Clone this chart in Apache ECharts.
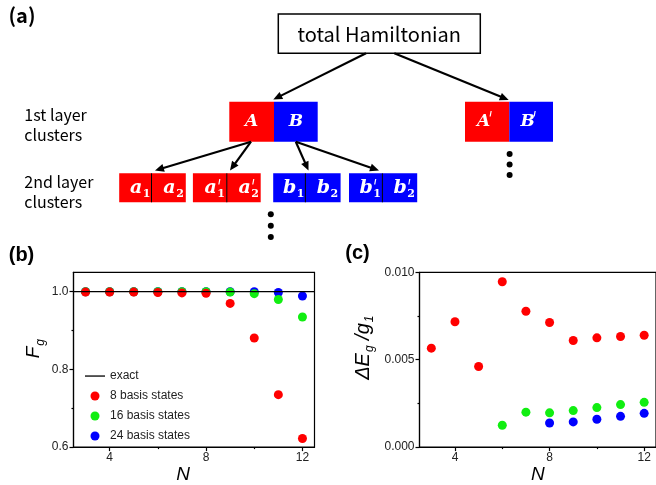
<!DOCTYPE html>
<html>
<head>
    <meta charset="utf-8">
    <title>cluster basis</title>
    <script src="https://cdn.jsdelivr.net/npm/echarts@6/dist/echarts.min.js"></script>
    <style>
        body { margin: 0; background: #fff; }
    </style>
</head>
<body>

<div id="main" style="width: 656px;height:485px;"></div>

<script type="text/javascript">
    // panel (b): fidelity of the ground state
    var nAll = [3, 4, 5, 6, 7, 8, 9, 10, 11, 12];
    var exactN = [2.5, 12.5];
    var exactF = [1, 1];
    var fid8 = [0.999, 0.999, 0.999, 0.998, 0.997, 0.996, 0.970, 0.881, 0.735, 0.622];
    var fid16 = [1, 1, 1, 1, 1, 1, 0.999, 0.995, 0.980, 0.935];
    var fid24 = [1, 1, 1, 1, 1, 1, 1, 1, 0.998, 0.989];

    // panel (c): energy error
    var gap8 = [0.00566, 0.00717, 0.00461, 0.00946, 0.00777, 0.00713, 0.00610, 0.00625, 0.00633, 0.00640];
    var gapN16 = [6, 7, 8, 9, 10, 11, 12];
    var gap16 = [0.00125, 0.00200, 0.00196, 0.00209, 0.00226, 0.00243, 0.00256];
    var gapN24 = [8, 9, 10, 11, 12];
    var gap24 = [0.00138, 0.00144, 0.00159, 0.00176, 0.00193];

    var xTicks = [4, 8, 12];
    var xMinor = [6, 10];
    var fidTicks = [0.6, 0.8, 1.0];
    var fidMinor = [0.7, 0.9];
    var gapTicks = [0, 0.005, 0.010];
    var gapMinor = [0.0025, 0.0075];

    function zip(xs, ys) {
        var out = [];
        for (var i = 0; i < xs.length; i++) out.push([xs[i], ys[i]]);
        return out;
    }

    var FONT = 'Liberation Sans';
    var RED = '#ff0000', GREEN = '#11ee11', BLUE = '#0000ff';

    // ---------- diagram (a) ----------
    var g = [];
    function arrow(x1, y1, x2, y2) {
        var dx = x2 - x1, dy = y2 - y1, L = Math.sqrt(dx * dx + dy * dy);
        var ux = dx / L, uy = dy / L, hl = 9, hw = 4;
        var bx = x2 - ux * hl, by = y2 - uy * hl;
        g.push({type: 'line', shape: {x1: x1, y1: y1, x2: bx + ux * 2, y2: by + uy * 2},
                style: {stroke: '#000', lineWidth: 2.2}});
        g.push({type: 'polygon', shape: {points: [[x2, y2], [bx - uy * hw, by + ux * hw], [bx + uy * hw, by - ux * hw]]},
                style: {fill: '#000'}});
    }
    function label(x, y, txt, size, weight) {
        g.push({type: 'text', x: x, y: y, style: {text: txt, fill: '#000', font: (weight || 'normal') + ' ' + size + 'px "Noto Sans CJK SC"',
                textAlign: 'left', textVerticalAlign: 'middle'}});
    }
    function mathText(x, y, txt, size, align, upright) {
        g.push({type: 'text', x: x, y: y, style: {text: txt, fill: '#fff',
                font: (upright ? '' : 'italic ') + 'bold ' + size + 'px "DejaVu Serif"', textAlign: align, textVerticalAlign: 'middle'}});
    }
    function primeMark(x, y) {
        g.push({type: 'line', shape: {x1: x + 1, y1: y - 3, x2: x, y2: y + 2.5},
                style: {stroke: '#fff', lineWidth: 1.2}});
    }
    function bigBox(x0, x1, color, letter, prime) {
        g.push({type: 'rect', shape: {x: x0, y: 101.7, width: x1 - x0, height: 40}, style: {fill: color}});
        var cx = (x0 + x1) / 2;
        mathText(prime ? cx - 3.5 : cx, 122, letter, 17, 'center');
        if (prime) primeMark(cx + 3, 114);
    }
    function cell(x0, x1, color, letter, sub, prime) {
        g.push({type: 'rect', shape: {x: x0, y: 173.3, width: x1 - x0, height: 29}, style: {fill: color}});
        var cx = (x0 + x1) / 2 + 1;
        mathText(cx + 6, 188.5, letter, 19, 'right');
        mathText(cx + 6.5, 194, sub, 11, 'left', true);
        if (prime) primeMark(cx + 8, 182);
    }
    function pair(x0, xm, x1, color, letter, prime) {
        cell(x0, xm, color, letter, '1', prime);
        cell(xm, x1, color, letter, '2', prime);
        g.push({type: 'line', shape: {x1: xm, y1: 173.3, x2: xm, y2: 202.3}, style: {stroke: '#000', lineWidth: 1}});
    }

    g.push({type: 'text', x: 22, y: 15, style: {text: '(a)', fill: '#000', font: 'bold 20px "Noto Sans CJK SC"',
            textAlign: 'center', textVerticalAlign: 'middle'}});
    g.push({type: 'rect', shape: {x: 278.3, y: 14, width: 202, height: 39.3},
            style: {fill: '#fff', stroke: '#000', lineWidth: 1.5}});
    g.push({type: 'text', x: 379.3, y: 34, style: {text: 'total Hamiltonian', fill: '#000',
            font: '20px "Noto Sans CJK SC"', textAlign: 'center', textVerticalAlign: 'middle'}});
    arrow(366, 53.3, 273.3, 99.5);
    arrow(394.3, 53.3, 508.7, 100);

    label(24.3, 115, '1st layer', 16);
    label(24.3, 135, 'clusters', 16);
    label(24.3, 182, '2nd layer', 16);
    label(24.3, 202, 'clusters', 16);

    bigBox(229.3, 274, RED, 'A', false);
    bigBox(274, 317.7, BLUE, 'B', false);
    bigBox(465, 509.3, RED, 'A', true);
    bigBox(509.3, 553, BLUE, 'B', true);

    arrow(251, 141.7, 155, 170.5);
    arrow(251, 141.7, 230, 170.5);
    arrow(295.8, 141.7, 308.5, 170.5);
    arrow(295.8, 141.7, 379, 170.5);

    pair(119.2, 151.5, 185.8, RED, 'a', false);
    pair(192.9, 226.8, 260.7, RED, 'a', true);
    pair(273.2, 305.4, 340.6, BLUE, 'b', false);
    pair(349, 382.4, 417.2, BLUE, 'b', true);

    [154, 164.5, 175].forEach(function (y) {
        g.push({type: 'circle', shape: {cx: 509.6, cy: y, r: 3}, style: {fill: '#000'}});
    });
    [214.3, 225.7, 237].forEach(function (y) {
        g.push({type: 'circle', shape: {cx: 270.8, cy: y, r: 3}, style: {fill: '#000'}});
    });

    g.push({type: 'text', x: 21.5, y: 255, style: {text: '(b)', fill: '#000', font: 'bold 20px "Liberation Sans"',
            textAlign: 'center', textVerticalAlign: 'middle'}});
    g.push({type: 'text', x: 357.5, y: 253.5, style: {text: '(c)', fill: '#000', font: 'bold 20px "Liberation Sans"',
            textAlign: 'center', textVerticalAlign: 'middle'}});

    // ---------- axes ----------
    var lineStyle = {color: '#000', width: 1.2};
    var labelStyle = {fontSize: 12, color: '#222', fontFamily: FONT, margin: 5};
    var italicName = {fontSize: 19, fontStyle: 'italic', color: '#000', fontFamily: FONT};

    function mainX(grid, nameShift) {
        return {
            type: 'value', gridIndex: grid, min: 2.5, max: 12.5, position: 'bottom',
            name: 'N', nameLocation: 'middle', nameGap: 5,
            nameTextStyle: Object.assign({padding: [0, nameShift, 0, 0]}, italicName),
            axisLine: {lineStyle: lineStyle},
            axisTick: {customValues: xTicks, length: 4, lineStyle: lineStyle},
            axisLabel: Object.assign({customValues: xTicks}, labelStyle),
            splitLine: {show: false}
        };
    }
    function minorX(grid) {
        return {
            type: 'value', gridIndex: grid, min: 2.5, max: 12.5, position: 'bottom',
            axisLine: {show: false},
            axisTick: {customValues: xMinor, length: 2, lineStyle: lineStyle},
            axisLabel: {show: false}, splitLine: {show: false}
        };
    }
    function minorY(grid, min, max, vals) {
        return {
            type: 'value', gridIndex: grid, min: min, max: max, position: 'left',
            axisLine: {show: false},
            axisTick: {customValues: vals, length: 2, lineStyle: lineStyle},
            axisLabel: {show: false}, splitLine: {show: false}
        };
    }

    function subRich(size) {
        return {
            i: {fontSize: size, fontStyle: 'italic', fontFamily: FONT, color: '#000', lineHeight: 22, verticalAlign: 'top'},
            s: {fontSize: 12, fontStyle: 'italic', fontFamily: FONT, color: '#000', lineHeight: 12, verticalAlign: 'bottom', padding: [11, 0, 0, 1]}
        };
    }

    var chart = echarts.init(document.getElementById('main'));
    chart.setOption({
        animation: false,
        graphic: g,
        grid: [
            {left: 73.5, top: 272.3, width: 241, height: 179.3, show: true, borderColor: '#000', borderWidth: 1.2},
            {left: 419.5, top: 272.3, width: 240, height: 178.5, show: true, borderColor: '#000', borderWidth: 1.2}
        ],
        legend: {
            data: [
                {name: 'exact', icon: 'path://M0,0 M20,9 M0,3.9 L20,3.9 L20,5.2 L0,5.2 Z'},
                '8 basis states', '16 basis states', '24 basis states'
            ],
            orient: 'vertical', left: 80, top: 365,
            itemWidth: 20, itemHeight: 9, itemGap: 8,
            textStyle: {fontSize: 12, color: '#222', fontFamily: FONT}
        },
        xAxis: [mainX(0, 22), minorX(0), mainX(1, 0), minorX(1)],
        yAxis: [
            {
                type: 'value', gridIndex: 0, min: 0.6, max: 1.05, position: 'left',
                name: '{i|F}{s|g}', nameLocation: 'middle', nameGap: 27, nameRotate: 90,
                nameTextStyle: {rich: subRich(19), padding: [0, 0, 0, 22]},
                axisLine: {lineStyle: lineStyle},
                axisTick: {customValues: fidTicks, length: 4, lineStyle: lineStyle},
                axisLabel: Object.assign({customValues: fidTicks, formatter: function (v) { return v.toFixed(1); }}, labelStyle),
                splitLine: {show: false}
            },
            minorY(0, 0.6, 1.05, fidMinor),
            {
                type: 'value', gridIndex: 1, min: 0, max: 0.010, position: 'left',
                name: '{i|ΔE}{s|g}{i| /g}{s|1}', nameLocation: 'middle', nameGap: 44, nameRotate: 90,
                nameTextStyle: {rich: subRich(20), padding: [0, 0, 0, 24]},
                axisLine: {lineStyle: lineStyle},
                axisTick: {customValues: gapTicks, length: 4, lineStyle: lineStyle},
                axisLabel: Object.assign({customValues: gapTicks, formatter: function (v) { return v.toFixed(3); }}, labelStyle),
                splitLine: {show: false}
            },
            minorY(1, 0, 0.010, gapMinor)
        ],
        series: [
            {name: 'exact', type: 'line', xAxisIndex: 0, yAxisIndex: 0, data: zip(exactN, exactF),
             symbol: 'none', lineStyle: {color: '#000', width: 1.3}, itemStyle: {color: '#000'}},
            {name: '24 basis states', type: 'scatter', xAxisIndex: 0, yAxisIndex: 0, data: zip(nAll, fid24),
             symbolSize: 9, itemStyle: {color: BLUE, opacity: 1}},
            {name: '16 basis states', type: 'scatter', xAxisIndex: 0, yAxisIndex: 0, data: zip(nAll, fid16),
             symbolSize: 9, itemStyle: {color: GREEN, opacity: 1}},
            {name: '8 basis states', type: 'scatter', xAxisIndex: 0, yAxisIndex: 0, data: zip(nAll, fid8),
             symbolSize: 9, itemStyle: {color: RED, opacity: 1}},
            {name: '24 basis states', type: 'scatter', xAxisIndex: 2, yAxisIndex: 2, data: zip(gapN24, gap24),
             symbolSize: 9, itemStyle: {color: BLUE, opacity: 1}},
            {name: '16 basis states', type: 'scatter', xAxisIndex: 2, yAxisIndex: 2, data: zip(gapN16, gap16),
             symbolSize: 9, itemStyle: {color: GREEN, opacity: 1}},
            {name: '8 basis states', type: 'scatter', xAxisIndex: 2, yAxisIndex: 2, data: zip(nAll, gap8),
             symbolSize: 9, itemStyle: {color: RED, opacity: 1}}
        ]
    });
</script>
</body>
</html>
